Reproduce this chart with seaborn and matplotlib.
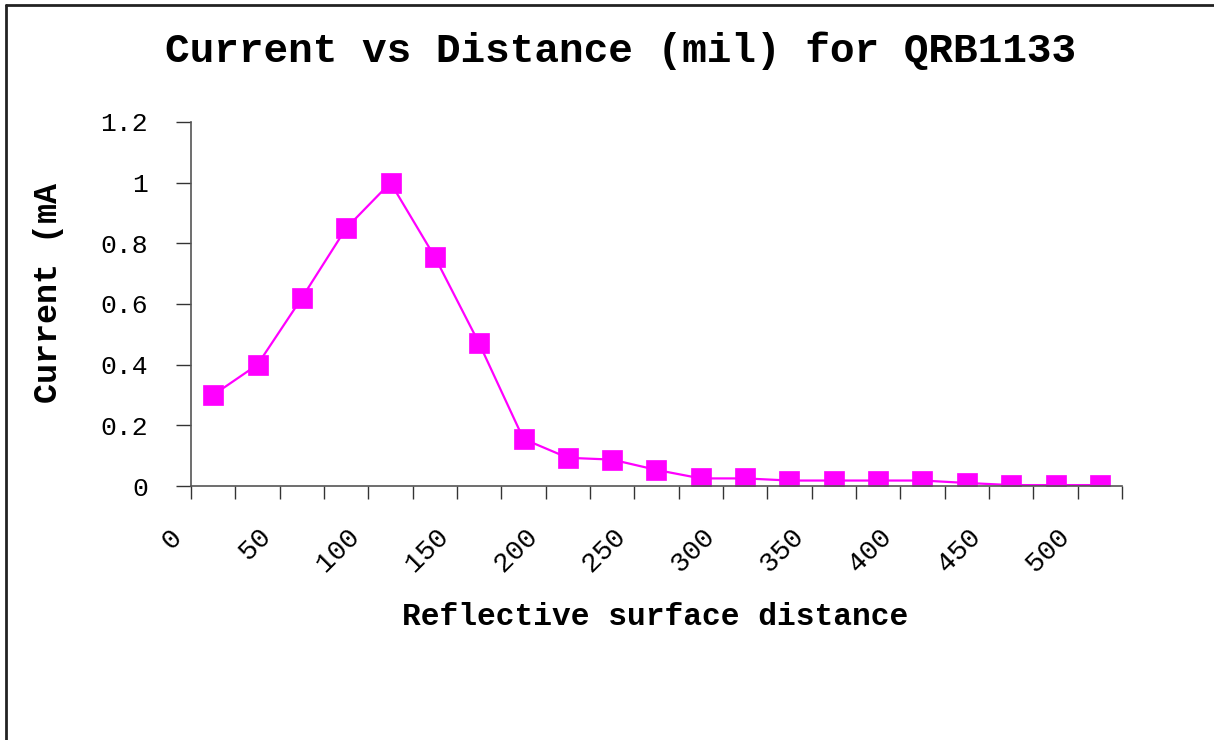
import numpy as np
import pandas as pd
import matplotlib
matplotlib.use("Agg")
import matplotlib.pyplot as plt
from matplotlib.lines import Line2D
import seaborn as sns

# values
distance = [0, 25, 50, 75, 100, 125, 150, 175, 200, 225, 250,
            275, 300, 325, 350, 375, 400, 425, 450, 475, 500]
current_ma = [0.30, 0.40, 0.62, 0.85, 1.00, 0.755, 0.47, 0.155, 0.093, 0.087, 0.053,
              0.025, 0.025, 0.018, 0.018, 0.018, 0.018, 0.010, 0.003, 0.003, 0.003]
tick_labels = ["0", "50", "100", "150", "200", "250", "300", "350", "400", "450", "500"]

title = "Current vs Distance (mil) for QRB1133"
xlabel = "Reflective surface distance"
ylabel = "Current (mA"

mono = ["Liberation Mono", "DejaVu Sans Mono"]

sns.set_theme(style="white")
plt.rcParams["font.family"] = mono
plt.rcParams["text.color"] = "black"
plt.rcParams["xtick.color"] = "black"
plt.rcParams["ytick.color"] = "black"

df = pd.DataFrame({"pos": np.arange(len(distance)), "current": current_ma})

fig = plt.figure(figsize=(12.14, 7.40), dpi=100)
ax = fig.add_axes([191 / 1214, 1 - 486 / 740, (1122 - 191) / 1214, (486 - 122) / 740])

sns.lineplot(data=df, x="pos", y="current", ax=ax, color="#FF00FF",
             linewidth=1.6, marker="s", markersize=14, markeredgecolor="#FF00FF",
             markeredgewidth=0.5)

ax.set_xlabel("")
ax.set_ylabel("")

# category-style axis: a tick mark between every category,
# labels on every other boundary
ax.set_xticks(np.arange(len(distance) + 1) - 0.5, minor=True)
ax.set_xticks(np.arange(0, len(distance), 2) - 0.5)
# trailing space nudges the rotated label down-left like the original
ax.set_xticklabels([t + " " for t in tick_labels], rotation=45, ha="right", va="center",
                   rotation_mode="anchor", fontsize=20, family=mono)

ax.set_yticks(np.arange(0, 1.21, 0.2))
ax.set_yticklabels(["0", "0.2", "0.4", "0.6", "0.8", "1", "1.2"], fontsize=19, family=mono)

ax.set_xlim(-0.5, len(distance) - 0.5)
ax.set_ylim(0, 1.2)

ax.tick_params(axis="x", which="both", direction="out", length=9, width=1,
               color="#333333", bottom=True, pad=17)
ax.tick_params(axis="y", direction="out", length=11, width=1, color="#333333",
               left=True, pad=20)

for s in ["top", "right"]:
    ax.spines[s].set_visible(False)
for s in ["left", "bottom"]:
    ax.spines[s].set_color("#555555")
    ax.spines[s].set_linewidth(1.2)

fig.text(621 / 1214, 1 - 51 / 740, title, ha="center", va="center",
         fontsize=29.6, fontweight="bold", family=mono)
fig.text(655 / 1214, 1 - 617 / 740, xlabel, ha="center", va="center",
         fontsize=22.5, fontweight="bold", family=mono)
fig.text(49 / 1214, 1 - 293 / 740, ylabel, ha="center", va="center",
         rotation=90, fontsize=24, fontweight="bold", family=mono)

# chart frame, only top and left edges fall inside the picture
fig.add_artist(Line2D([6 / 1214, 6 / 1214], [0, 1 - 5 / 740], color="#222222", linewidth=2,
                      transform=fig.transFigure))
fig.add_artist(Line2D([6 / 1214, 1], [1 - 5 / 740, 1 - 5 / 740], color="#222222", linewidth=2,
                      transform=fig.transFigure))

fig.savefig("out.png", dpi=100)
